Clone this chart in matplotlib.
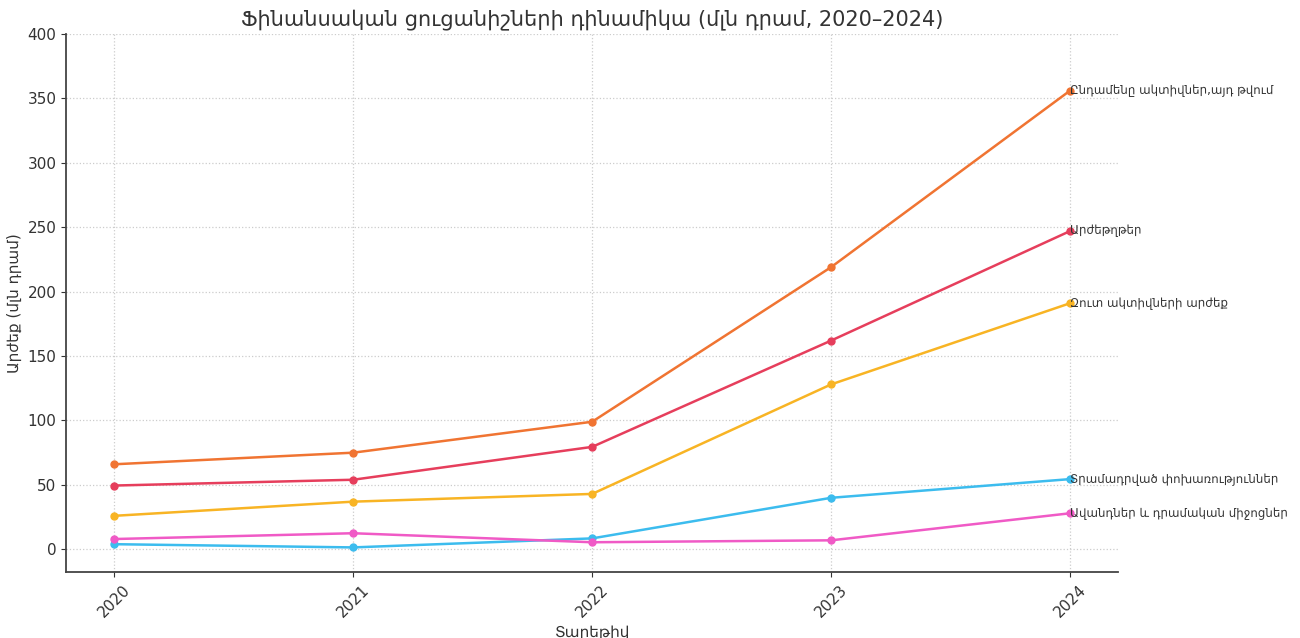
import matplotlib
matplotlib.use("Agg")
import matplotlib.pyplot as plt

plt.rcParams['font.family'] = ['DejaVu Sans']
plt.rcParams['text.color'] = '#333333'
plt.rcParams['axes.labelcolor'] = '#333333'
plt.rcParams['xtick.color'] = '#333333'
plt.rcParams['ytick.color'] = '#333333'

years = ['2020', '2021', '2022', '2023', '2024']

total_assets = [66, 75, 99, 219, 356]
securities = [49.5, 54, 79.5, 162, 247]
net_assets = [26, 37, 43, 128, 191]
loans = [4, 1.5, 8.5, 40, 54.5]
deposits = [8, 12.5, 5.5, 7, 28]

names = [
    'Ընդամենը ակտիվներ,այդ թվում',
    'Արժեթղթեր',
    'Զուտ ակտիվների արժեք',
    'Տրամադրված փոխառություններ',
    'Ավանդներ և դրամական միջոցներ',
]
series = [total_assets, securities, net_assets, loans, deposits]
colors = ['#F07432', '#E63E5C', '#F8B424', '#3CBCEE', '#F05AC6']

fig, ax = plt.subplots(figsize=(13, 6.38), dpi=100)
x = list(range(len(years)))

for vals, name, c in zip(series, names, colors):
    ax.plot(x, vals, marker='o', markersize=5, linewidth=1.8, color=c)
    ax.text(x[-1], vals[-1], name, fontsize=8.5, color='#333333',
            va='center', ha='left')

ax.set_xticks(x)
ax.set_xticklabels(years, rotation=45, fontsize=11)
ax.tick_params(axis='y', labelsize=11)
ax.set_ylim(-17.8, 400)

ax.grid(True, linestyle=':', color='#cccccc', linewidth=0.9)
ax.spines['top'].set_visible(False)
ax.spines['right'].set_visible(False)
ax.spines['left'].set_color('#444444')
ax.spines['bottom'].set_color('#444444')
ax.spines['left'].set_linewidth(1.3)
ax.spines['bottom'].set_linewidth(1.3)

ax.set_title('Ֆինանսական ցուցանիշների դինամիկա (մլն դրամ, 2020–2024)',
             fontsize=15, pad=6)
ax.set_xlabel('Տարեթիվ', fontsize=11)
ax.set_ylabel('Արժեք (մլն դրամ)', fontsize=11)

fig.subplots_adjust(left=0.051, right=0.86, top=0.947, bottom=0.103)
fig.savefig('out.png', dpi=100)
